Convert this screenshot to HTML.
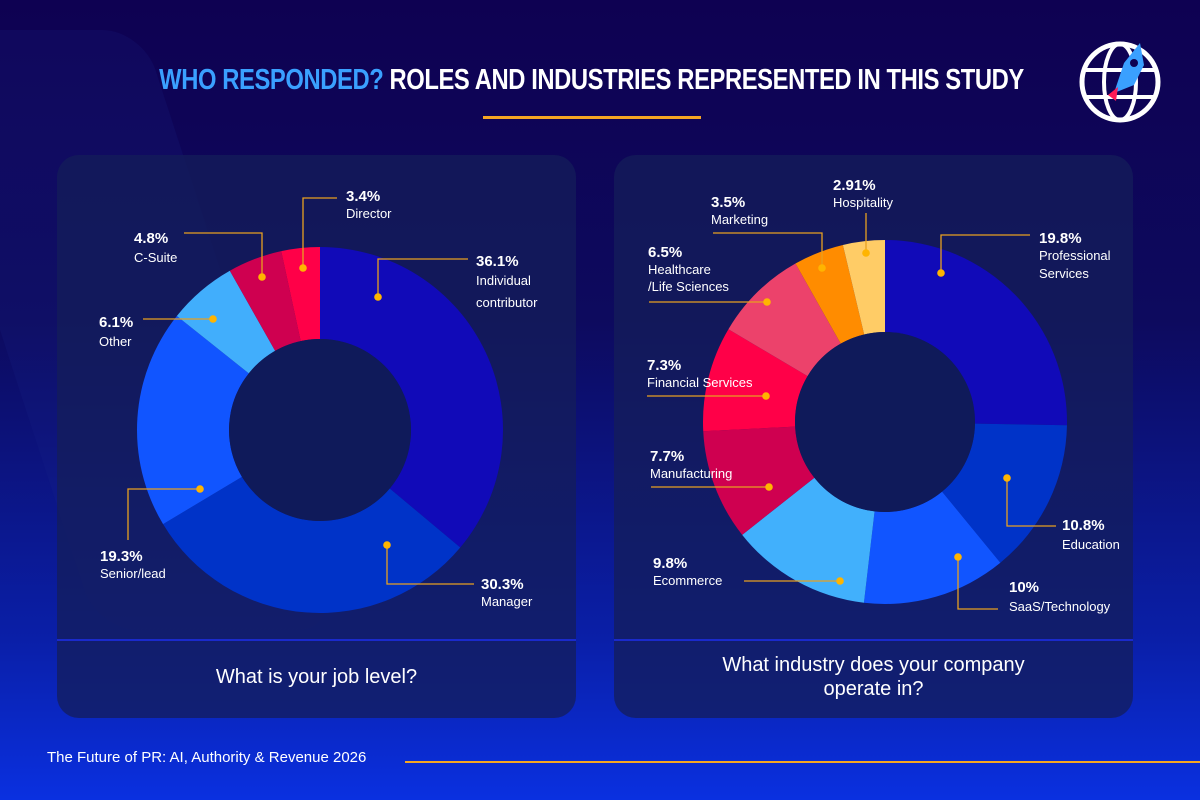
<!DOCTYPE html>
<html><head><meta charset="utf-8">
<style>
*{margin:0;padding:0;box-sizing:border-box}
body{width:1200px;height:800px;overflow:hidden;font-family:"Liberation Sans",sans-serif;
background:linear-gradient(180deg,#0e0152 0%,#0d0a5e 40%,#0a1fa8 80%,#0a30e0 100%);position:relative;color:#fff}
.card{position:absolute;top:155px;width:519px;height:563px;border-radius:22px;background:rgba(20,30,90,0.75)}
.q{position:absolute;left:0;right:0;text-align:center;font-size:20px;color:#fff;line-height:24px}
.t{position:absolute;font-size:13px;color:#fff;line-height:17px;white-space:nowrap}
.t b{font-size:15px;font-weight:bold}
</style></head><body>
<div style="position:absolute;left:0;top:30px;width:240px;height:600px;background:rgba(30,40,140,0.18);transform:skewX(18deg);border-radius:40px"></div>
<div style="position:absolute;left:0;width:1183px;top:64px;text-align:center;font-size:29px;font-weight:bold;font-family:'Liberation Sans Narrow','Liberation Sans',sans-serif;letter-spacing:-0.5px;transform:scaleX(0.82)"><span style="color:#3aa0ff">WHO RESPONDED?</span> ROLES AND INDUSTRIES REPRESENTED IN THIS STUDY</div>
<div style="position:absolute;left:483px;top:116px;width:218px;height:3px;background:#f5a623"></div>
<svg style="position:absolute;left:1078px;top:35px" width="88" height="88" viewBox="0 0 88 88">
<circle cx="42" cy="47" r="38" fill="none" stroke="#fff" stroke-width="5"/>
<ellipse cx="42" cy="47" rx="16" ry="38" fill="none" stroke="#fff" stroke-width="4"/>
<line x1="6" y1="35" x2="78" y2="35" stroke="#fff" stroke-width="4"/>
<line x1="6" y1="62" x2="78" y2="62" stroke="#fff" stroke-width="4"/>
<path d="M36 58 L46 28 L62 8 L66 30 L56 50 Z" fill="#3aa0ff"/>
<path d="M30 60 L40 52 L38 66 Z" fill="#ff1a55"/>
<circle cx="56" cy="28" r="4" fill="#0e0152"/>
</svg>

<div class="card" style="left:57px">
<div style="position:absolute;left:0;right:0;top:484px;height:2px;background:#1a2acc"></div>
<div class="q" style="top:510px">What is your job level?</div>
</div>
<div class="card" style="left:614px">
<div style="position:absolute;left:0;right:0;top:484px;height:2px;background:#1a2acc"></div>
<div class="q" style="top:498px">What industry does your company<br>operate in?</div>
</div>

<svg id="chart" style="position:absolute;left:0;top:0" width="1200" height="800"></svg>

<div class="t" style="left:476px;top:253px"><b>36.1%</b><br><span style="line-height:22px">Individual<br>contributor</span></div>
<div class="t" style="left:481px;top:576px"><b>30.3%</b><br>Manager</div>
<div class="t" style="left:100px;top:548px"><b>19.3%</b><br>Senior/lead</div>
<div class="t" style="left:99px;top:314px"><b>6.1%</b><br><span style="line-height:22px">Other</span></div>
<div class="t" style="left:134px;top:230px"><b>4.8%</b><br><span style="line-height:22px">C-Suite</span></div>
<div class="t" style="left:346px;top:188px"><b>3.4%</b><br>Director</div>

<div class="t" style="left:833px;top:177px"><b>2.91%</b><br>Hospitality</div>
<div class="t" style="left:711px;top:194px"><b>3.5%</b><br>Marketing</div>
<div class="t" style="left:648px;top:244px"><b>6.5%</b><br>Healthcare<br>/Life Sciences</div>
<div class="t" style="left:647px;top:357px"><b>7.3%</b><br>Financial Services</div>
<div class="t" style="left:650px;top:448px"><b>7.7%</b><br>Manufacturing</div>
<div class="t" style="left:653px;top:555px"><b>9.8%</b><br>Ecommerce</div>
<div class="t" style="left:1009px;top:579px"><b>10%</b><br><span style="line-height:22px">SaaS/Technology</span></div>
<div class="t" style="left:1062px;top:517px"><b>10.8%</b><br><span style="line-height:22px">Education</span></div>
<div class="t" style="left:1039px;top:230px"><b>19.8%</b><br><span style="line-height:18px">Professional<br>Services</span></div>

<div style="position:absolute;left:47px;top:749px;font-size:15px;color:#fff">The Future of PR: AI, Authority &amp; Revenue 2026</div>
<div style="position:absolute;left:405px;top:761px;width:795px;height:2px;background:#f5a623"></div>

<script>
const jobCats=["Individual contributor","Manager","Senior/lead","Other","C-Suite","Director"];
const jobVals=[36.1,30.3,19.3,6.1,4.8,3.4];
const jobColors=["#110ab8","#0033c8","#1155ff","#41aefc","#cf0050","#ff0048"];
const indCats=["Professional Services","Education","SaaS/Technology","Ecommerce","Manufacturing","Financial Services","Healthcare/Life Sciences","Marketing","Hospitality"];
const indVals=[19.8,10.8,10,9.8,7.7,7.3,6.5,3.5,2.91];
const indColors=["#110ab8","#0033c8","#1155ff","#41b0fc","#cf0050","#ff0048","#ec426b","#ff8c00","#ffcc66"];
const svg=document.getElementById('chart');
const NS='http://www.w3.org/2000/svg';
function mk(tag,attrs){const e=document.createElementNS(NS,tag);for(const k in attrs)e.setAttribute(k,attrs[k]);svg.appendChild(e);return e;}
function pt(cx,cy,r,a){return [cx+r*Math.sin(a),cy-r*Math.cos(a)];}
function donut(cx,cy,ro,ri,vals,colors,prefix,dots,leaders){
  const tot=vals.reduce((a,b)=>a+b,0);let a0=0;
  vals.forEach((v,i)=>{
    const a1=a0+v/tot*2*Math.PI;const lg=(a1-a0)>Math.PI?1:0;
    const p1=pt(cx,cy,ro,a0),p2=pt(cx,cy,ro,a1),p3=pt(cx,cy,ri,a1),p4=pt(cx,cy,ri,a0);
    const s=mk('path',{d:`M${p1} A${ro},${ro} 0 ${lg} 1 ${p2} L${p3} A${ri},${ri} 0 ${lg} 0 ${p4}Z`,fill:colors[i]});
    
    
    a0=a1;
  });
  const c=mk('circle',{cx:cx,cy:cy,r:ri,fill:'#0f1a5a'});
  
  
  vals.forEach((v,i)=>{
    const d=dots[i];const L=leaders[i];
    const pts=[d].concat(L.map(q=>q.map((c,j)=>c===null?d[j]:c)));
    const ln=mk('polyline',{points:pts.map(p=>p.join(',')).join(' '),fill:'none',stroke:'#e8a020','stroke-width':1.3});
    
    
    const dot=mk('circle',{cx:d[0],cy:d[1],r:3.8,fill:'#ffb400'});
    
    
  });
}
donut(320,430,183,91,jobVals,jobColors,'job',
 [[378,297],[387,545],[200,489],[213,319],[262,277],[303,268]],
 [[[null,259],[468,259]],[[null,584],[474,584]],[[128,null],[128,540]],
 [[143,null]],[[null,233],[184,233]],[[null,198],[337,198]]]);
donut(885,422,182,90,indVals,indColors,'industry',
 [[941,273],[1007,478],[958,557],[840,581],[769,487],[766,396],[767,302],[822,268],[866,253]],
 [[[null,235],[1030,235]],[[null,526],[1056,526]],[[null,609],[998,609]],
 [[744,null]],[[651,null]],[[647,null]],[[649,null]],[[null,233],[713,233]],[[null,213]]]);
</script>
</body></html>
